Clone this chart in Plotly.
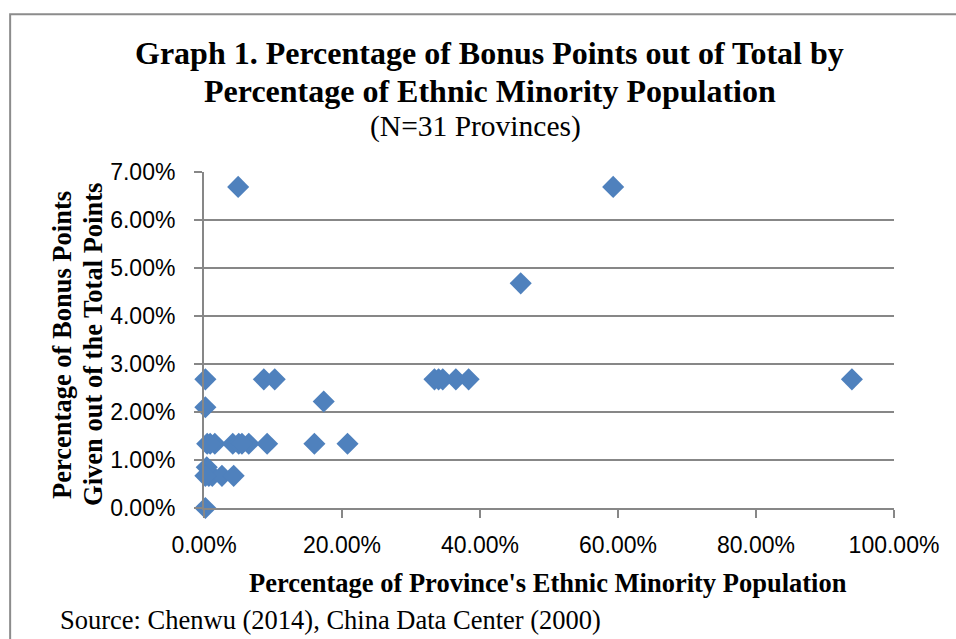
import plotly.graph_objects as go

# Data (percent values)
minority_pct = [0.2, 0.7, 1.2, 0.4, 2.6, 4.3, 0.2,
                0.46, 1.57, 4.17, 5.04, 6.49, 9.15, 16.0, 20.8, 0.9,
                0.2, 17.35,
                0.2, 8.67, 10.25, 33.4, 34.6, 36.5, 38.35, 93.9,
                4.95, 59.3, 45.9, 5.5, 34.0]
bonus_pct = [0.0, 0.67, 0.67, 0.85, 0.67, 0.67, 0.67,
             1.34, 1.34, 1.34, 1.34, 1.34, 1.34, 1.34, 1.34, 1.34,
             2.10, 2.22,
             2.68, 2.68, 2.68, 2.68, 2.68, 2.68, 2.68, 2.68,
             6.69, 6.69, 4.68, 1.34, 2.68]

x_ticks = [0, 20, 40, 60, 80, 100]
y_ticks = [0, 1, 2, 3, 4, 5, 6, 7]

title_lines = ["Graph 1. Percentage of Bonus Points out of Total by",
               "Percentage of Ethnic Minority Population"]
subtitle = "(N=31 Provinces)"
x_title = "Percentage of Province's Ethnic Minority Population"
y_title_lines = ["Percentage of Bonus Points", "Given out of the Total Points"]
source_text = "Source: Chenwu (2014), China Data Center (2000)"

W, H = 956, 639
L, R, T, B = 203.5, 894.0, 171.7, 507.7


def px(x):
    return (x - L) / (R - L)


def py(y):
    return (B - y) / (B - T)


GRAY = "#878787"
SERIF = "Liberation Serif, Times New Roman, serif"
SANS = "Liberation Sans, Arial, sans-serif"

fig = go.Figure(go.Scatter(
    x=minority_pct, y=bonus_pct, mode="markers",
    marker=dict(symbol="diamond", size=17, color="#4F81BD", line=dict(width=0)),
    cliponaxis=False, hoverinfo="x+y"))

fig.update_layout(
    width=W, height=H,
    margin=dict(l=L, r=W - R, t=T, b=H - B, pad=0),
    paper_bgcolor="white", plot_bgcolor="white",
    showlegend=False,
    font=dict(family=SANS, color="black"),
)

fig.update_xaxes(
    range=[0, 100], tickvals=x_ticks,
    ticktext=[f"{v:.2f}%" for v in x_ticks],
    showgrid=False, zeroline=False,
    showline=True, linecolor=GRAY, linewidth=2,
    ticks="outside", ticklen=8, tickwidth=2, tickcolor=GRAY,
    ticklabelstandoff=7,
    tickfont=dict(family=SANS, size=23, color="black"),
)
fig.update_yaxes(
    range=[0, 7], tickvals=y_ticks,
    ticktext=[f"{v:.2f}%" for v in y_ticks],
    showgrid=True, gridcolor=GRAY, gridwidth=2, zeroline=False,
    showline=True, linecolor=GRAY, linewidth=2,
    ticks="outside", ticklen=8, tickwidth=2, tickcolor=GRAY,
    ticklabelstandoff=14,
    tickfont=dict(family=SANS, size=23, color="black"),
)

ann = []
ann.append(dict(text=f"<b>{title_lines[0]}</b>", x=px(489), y=py(53),
                font=dict(family=SERIF, size=32, color="black")))
ann.append(dict(text=f"<b>{title_lines[1]}</b>", x=px(490), y=py(91),
                font=dict(family=SERIF, size=32, color="black")))
ann.append(dict(text=subtitle, x=px(475), y=py(126),
                font=dict(family=SERIF, size=29.5, color="black")))
ann.append(dict(text=f"<b>{x_title}</b>", x=px(548), y=py(583),
                font=dict(family=SERIF, size=26.5, color="black")))
ann.append(dict(text=f"<b>{y_title_lines[0]}</b>", x=px(62), y=py(345),
                textangle=-90, font=dict(family=SERIF, size=26.5, color="black")))
ann.append(dict(text=f"<b>{y_title_lines[1]}</b>", x=px(93), y=py(344),
                textangle=-90, font=dict(family=SERIF, size=26.5, color="black")))
for a in ann:
    a.update(xref="paper", yref="paper", xanchor="center", yanchor="middle",
             showarrow=False)
ann.append(dict(text=source_text, x=px(57), y=py(620), xref="paper", yref="paper",
                xanchor="left", yanchor="middle", showarrow=False,
                font=dict(family=SERIF, size=26.5, color="black")))
fig.update_layout(annotations=ann)

fig.add_shape(type="rect", xref="paper", yref="paper",
              x0=px(9.5), y0=py(14), x1=px(1100), y1=py(800),
              line=dict(color="#8c8c8c", width=2), fillcolor="rgba(0,0,0,0)",
              layer="below")

fig.write_html("out.html")
